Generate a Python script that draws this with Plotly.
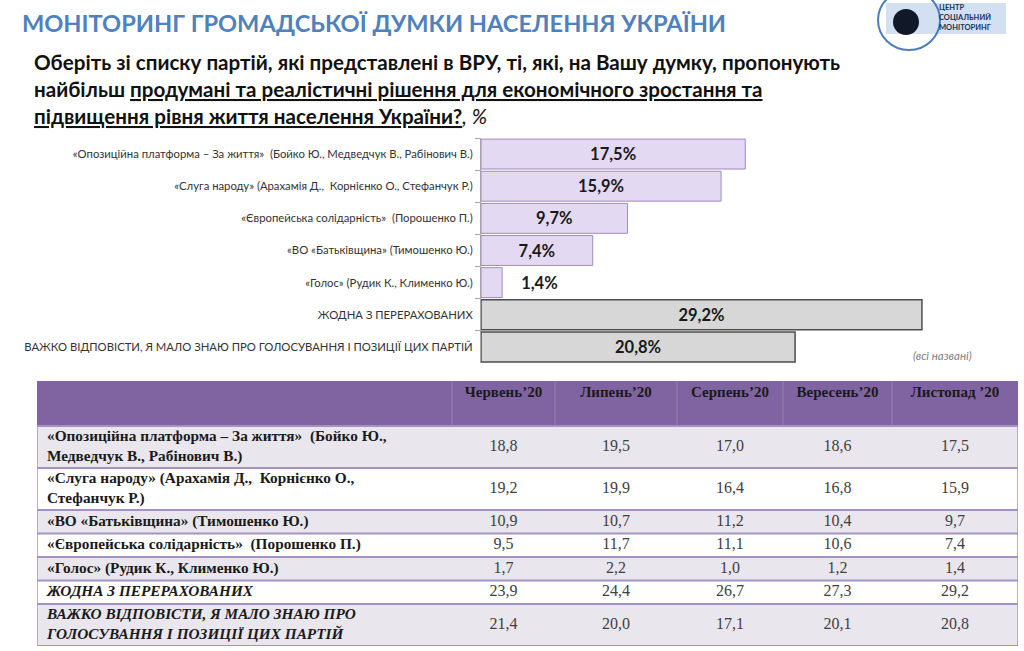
import plotly.graph_objects as go

# ---- bar chart data (Листопад'20) ----
bar_labels = [
    "«Опозиційна платформа – За життя»  (Бойко Ю., Медведчук В., Рабінович В.)",
    "«Слуга народу» (Арахамія Д.,  Корнієнко О., Стефанчук Р.)",
    "«Європейська солідарність»  (Порошенко П.)",
    "«ВО «Батьківщина» (Тимошенко Ю.)",
    "«Голос» (Рудик К., Клименко Ю.)",
    "ЖОДНА З ПЕРЕРАХОВАНИХ",
    "ВАЖКО ВІДПОВІСТИ, Я МАЛО ЗНАЮ ПРО ГОЛОСУВАННЯ І ПОЗИЦІЇ ЦИХ ПАРТІЙ",
]
bar_values = [17.5, 15.9, 9.7, 7.4, 1.4, 29.2, 20.8]
bar_is_party = [True, True, True, True, True, False, False]

# ---- table data ----
months = ["Червень’20", "Липень’20", "Серпень’20", "Вересень’20", "Листопад ’20"]
table_rows = [
    "<b>«Опозиційна платформа – За життя»  (Бойко Ю.,<br>Медведчук В., Рабінович В.)</b>",
    "<b>«Слуга народу» (Арахамія Д.,  Корнієнко О.,<br>Стефанчук Р.)</b>",
    "<b>«ВО «Батьківщина» (Тимошенко Ю.)</b>",
    "<b>«Європейська солідарність»  (Порошенко П.)</b>",
    "<b>«Голос» (Рудик К., Клименко Ю.)</b>",
    "<b><i>ЖОДНА З ПЕРЕРАХОВАНИХ</i></b>",
    "<b><i>ВАЖКО ВІДПОВІСТИ, Я МАЛО ЗНАЮ ПРО<br>ГОЛОСУВАННЯ І ПОЗИЦІЇ ЦИХ ПАРТІЙ</i></b>",
]
jun20 = [18.8, 19.2, 10.9, 9.5, 1.7, 23.9, 21.4]
jul20 = [19.5, 19.9, 10.7, 11.7, 2.2, 24.4, 20.0]
aug20 = [17.0, 16.4, 11.2, 11.1, 1.0, 26.7, 17.1]
sep20 = [18.6, 16.8, 10.4, 10.6, 1.2, 27.3, 20.1]
nov20 = [17.5, 15.9, 9.7, 7.4, 1.4, 29.2, 20.8]
month_cols = [jun20, jul20, aug20, sep20, nov20]

W, H = 1024, 651


def px(x):
    return x / W


def py(y):
    return 1 - y / H


def fmt(vals):
    return [f"{v:.1f}".replace(".", ",") for v in vals]


fig = go.Figure()

# ---------------- bars ----------------
fig.add_trace(go.Bar(
    y=bar_labels, x=bar_values, orientation="h",
    marker=dict(
        color=["#E4D9F3" if p else "#D7D7D7" for p in bar_is_party],
        line=dict(color=["#A088C6" if p else "#4D4D4D" for p in bar_is_party],
                  width=[1 if p else 1.5 for p in bar_is_party]),
    ),
    texttemplate=["%{x:.1f}%" if v > 3 else "\u00a0\u00a0\u00a0\u00a0%{x:.1f}%"
                  for v in bar_values],
    textposition=["inside" if v > 3 else "outside" for v in bar_values],
    insidetextanchor="middle",
    textangle=0,
    textfont=dict(family="Lato", size=16.5, color="#1a1a1a", weight="bold"),
    cliponaxis=False,
    hoverinfo="skip",
    showlegend=False,
))

# ---------------- table on its own axes (units = pixels) ----------------
col_widths = [415, 103, 122, 106, 109, 126]
header_h = 45
row_h = [42 if "<br>" in r else 23.5 for r in table_rows]

col_edges = [0]
for w in col_widths:
    col_edges.append(col_edges[-1] + w)
row_edges = [header_h]
for h in row_h:
    row_edges.append(row_edges[-1] + h)
table_w, table_h = col_edges[-1], row_edges[-1]
col_mid = [(col_edges[i] + col_edges[i + 1]) / 2 for i in range(len(col_widths))]
row_mid = [(row_edges[i] + row_edges[i + 1]) / 2 for i in range(len(row_h))]

shapes = []
# header background + separators
shapes.append(dict(type="rect", xref="x2", yref="y2", x0=0, x1=table_w, y0=0,
                   y1=header_h, fillcolor="#8064A2", line=dict(width=0), layer="below"))
for xe in col_edges[1:-1]:
    shapes.append(dict(type="line", xref="x2", yref="y2", x0=xe, x1=xe, y0=0,
                       y1=header_h, line=dict(color="#9580B4", width=1), layer="below"))
# body rows
for i in range(len(table_rows)):
    shapes.append(dict(type="rect", xref="x2", yref="y2", x0=0, x1=table_w,
                       y0=row_edges[i], y1=row_edges[i + 1],
                       fillcolor="#E9E6EE" if i % 2 == 0 else "#FFFFFF",
                       line=dict(width=0), layer="below"))
for ye in row_edges:
    shapes.append(dict(type="line", xref="x2", yref="y2", x0=0, x1=table_w, y0=ye,
                       y1=ye, line=dict(color="#A591C4", width=2), layer="below"))
for xe in (0, table_w):
    shapes.append(dict(type="line", xref="x2", yref="y2", x0=xe, x1=xe,
                       y0=header_h, y1=table_h,
                       line=dict(color="#A591C4", width=1.5), layer="below"))

# header text
fig.add_trace(go.Scatter(
    x=col_mid[1:], y=[12] * len(months), xaxis="x2", yaxis="y2",
    mode="text", text=[f"<b>{m}</b>" for m in months], textposition="middle center",
    textfont=dict(family="Liberation Serif", size=15, color="#1a1a1a"),
    hoverinfo="skip", showlegend=False, cliponaxis=False,
))
# row labels
fig.add_trace(go.Scatter(
    x=[10] * len(table_rows), y=row_mid, xaxis="x2", yaxis="y2",
    mode="text", text=table_rows, textposition="middle right",
    textfont=dict(family="Liberation Serif", size=15.3, color="#1a1a1a"),
    hoverinfo="skip", showlegend=False, cliponaxis=False,
))
# values
for j, col in enumerate(month_cols):
    fig.add_trace(go.Scatter(
        x=[col_mid[j + 1]] * len(col), y=row_mid, xaxis="x2", yaxis="y2",
        mode="text", text=fmt(col), textposition="middle center",
        textfont=dict(family="Liberation Serif", size=16, color="#404040"),
        hoverinfo="skip", showlegend=False, cliponaxis=False,
    ))

# ---------------- logo (decorative) ----------------
shapes += [
    dict(type="rect", xref="paper", yref="paper", x0=px(886), x1=px(1006),
         y0=py(34), y1=py(3), fillcolor="#D3E0F1", line=dict(width=0), layer="below"),
    dict(type="circle", xref="paper", yref="paper", x0=px(878), x1=px(940),
         y0=py(50), y1=py(-10), line=dict(color="#4A7EBB", width=2)),
    dict(type="circle", xref="paper", yref="paper", x0=px(893), x1=px(919),
         y0=py(35), y1=py(9), fillcolor="#111827", line=dict(width=0)),
]

annotations = [
    dict(text="<b>МОНІТОРИНГ ГРОМАДСЬКОЇ ДУМКИ НАСЕЛЕННЯ УКРАЇНИ</b>",
         x=px(20), y=py(23), xanchor="left", yanchor="middle",
         font=dict(family="Lato", size=23.6, color="#4F81BD")),
    dict(text="<b>Оберіть зі списку партій, які представлені в ВРУ, ті, які, на Вашу думку, пропонують</b>",
         x=px(32), y=py(62), xanchor="left", yanchor="middle",
         font=dict(family="Lato", size=20.6, color="#111111")),
    dict(text="<b>найбільш <u>продумані та реалістичні рішення для економічного зростання та</u></b>",
         x=px(32), y=py(89), xanchor="left", yanchor="middle",
         font=dict(family="Lato", size=20.6, color="#111111")),
    dict(text="<b><u>підвищення рівня життя населення України?</u></b><i>, %</i>",
         x=px(32), y=py(116), xanchor="left", yanchor="middle",
         font=dict(family="Lato", size=20.6, color="#111111")),
    dict(text="<i>(всі названі)</i>", x=px(974), y=py(355), xanchor="right",
         yanchor="middle", font=dict(family="Lato", size=11.5, color="#7F7F7F")),
    dict(text="<b>ЦЕНТР<br>СОЦІАЛЬНИЙ<br>МОНІТОРИНГ</b>", x=px(937), y=py(18),
         xanchor="left", yanchor="middle", align="left",
         font=dict(family="Lato", size=7.5, color="#1F2F55")),
]
for a in annotations:
    a.update(xref="paper", yref="paper", showarrow=False)

fig.update_layout(
    width=W, height=H,
    margin=dict(l=0, r=0, t=0, b=0),
    paper_bgcolor="white", plot_bgcolor="rgba(0,0,0,0)",
    separators=", ",
    bargap=0.07,
    shapes=shapes,
    annotations=annotations,
    xaxis=dict(domain=[px(481), px(481 + 30 * 15.1)], range=[0, 30],
               visible=False, fixedrange=True),
    yaxis=dict(domain=[py(363), py(138)], type="category",
               autorange="reversed", showline=True, linecolor="#A6A6A6",
               ticks="outside", tickson="boundaries", ticklen=5,
               tickcolor="#A6A6A6", showgrid=False, fixedrange=True,
               ticklabelstandoff=5,
               tickfont=dict(family="Lato", size=11.3, color="#333333")),
    xaxis2=dict(domain=[px(37), px(37 + table_w)], range=[0, table_w],
                anchor="y2", visible=False, fixedrange=True),
    yaxis2=dict(domain=[py(381 + table_h), py(381)], range=[table_h, 0],
                anchor="x2", visible=False, fixedrange=True),
)

fig.write_html("out.html", config={"displayModeBar": False},
               post_script="document.body.style.margin='0';document.body.style.overflow='hidden';")
